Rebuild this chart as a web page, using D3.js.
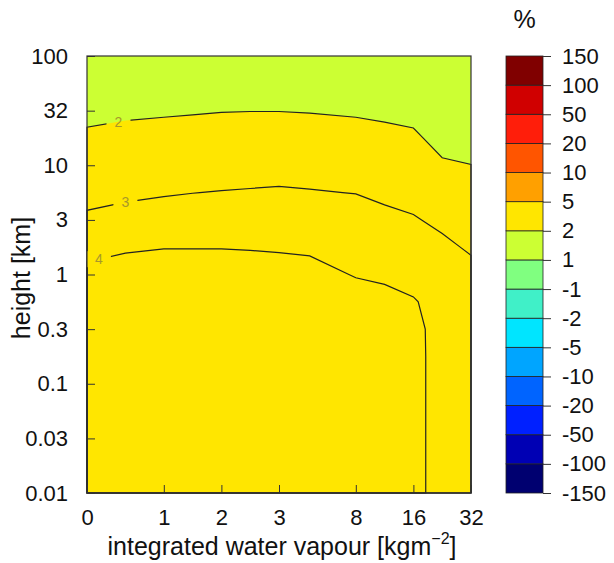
<!DOCTYPE html>
<html>
<head>
<meta charset="utf-8">
<title>Height vs IWV</title>
<script src="https://cdn.jsdelivr.net/npm/d3@7"></script>
<style>
    body { margin: 0; background: #fff; }
    text { font-family: "Liberation Sans", Arial, Helvetica, sans-serif; fill: #111; }
    .axis text { font-size: 22px; }
    .axis path { display: none; }
    .axis line { stroke: #333; }
</style>
</head>
<body>
<script>
// grid columns (integrated water vapour, kg m-2) and rows (height, km)
var iwv = [0, 0.5, 1, 1.5, 2, 2.5, 3, 5, 8, 12, 16, 24, 32];
var heights = [0.01, 0.0178, 0.0316, 0.0562, 0.1, 0.178, 0.316, 0.562, 1,
               1.78, 3.16, 5.62, 10, 17.8, 31.6, 56.2, 100];

// change in % , one row per height (lowest first), one value per iwv column
var change = [
    [4.80, 4.80, 4.82, 4.82, 4.82, 4.82, 4.80, 4.78, 4.75, 4.65, 4.30, 3.60, 3.50],
    [4.80, 4.80, 4.82, 4.82, 4.82, 4.82, 4.80, 4.78, 4.75, 4.65, 4.30, 3.60, 3.50],
    [4.80, 4.80, 4.82, 4.82, 4.82, 4.82, 4.80, 4.78, 4.75, 4.65, 4.30, 3.60, 3.50],
    [4.78, 4.80, 4.82, 4.82, 4.82, 4.82, 4.80, 4.78, 4.75, 4.65, 4.30, 3.60, 3.50],
    [4.76, 4.79, 4.81, 4.81, 4.81, 4.81, 4.79, 4.76, 4.74, 4.64, 4.30, 3.60, 3.50],
    [4.72, 4.78, 4.80, 4.80, 4.80, 4.80, 4.77, 4.73, 4.70, 4.60, 4.30, 3.60, 3.50],
    [4.65, 4.72, 4.76, 4.76, 4.76, 4.75, 4.72, 4.67, 4.62, 4.50, 4.28, 3.60, 3.50],
    [4.50, 4.62, 4.68, 4.68, 4.68, 4.66, 4.62, 4.56, 4.44, 4.32, 4.09, 3.55, 3.45],
    [4.23, 4.39, 4.47, 4.47, 4.47, 4.44, 4.40, 4.34, 3.94, 3.82, 3.59, 3.40, 3.28],
    [3.73, 3.89, 3.97, 3.97, 3.97, 3.94, 3.90, 3.84, 3.60, 3.50, 3.35, 3.20, 2.88],
    [3.14, 3.26, 3.34, 3.39, 3.45, 3.45, 3.45, 3.42, 3.38, 3.22, 3.08, 2.80, 2.60],
    [2.74, 2.86, 2.94, 2.99, 3.03, 3.06, 3.09, 3.05, 2.98, 2.82, 2.68, 2.50, 2.35],
    [2.45, 2.55, 2.60, 2.62, 2.63, 2.66, 2.69, 2.65, 2.60, 2.48, 2.40, 2.09, 2.01],
    [2.13, 2.21, 2.25, 2.28, 2.31, 2.32, 2.32, 2.30, 2.25, 2.19, 2.12, 1.76, 1.68],
    [1.80, 1.88, 1.92, 1.95, 1.98, 1.99, 1.99, 1.97, 1.92, 1.86, 1.79, 1.62, 1.55],
    [1.62, 1.68, 1.72, 1.74, 1.76, 1.77, 1.77, 1.76, 1.72, 1.68, 1.62, 1.52, 1.48],
    [1.50, 1.55, 1.58, 1.60, 1.62, 1.63, 1.63, 1.62, 1.60, 1.56, 1.52, 1.45, 1.42]
];

var xTicks = [0, 1, 2, 3, 8, 16, 32];
var yTickLabels = ["0.01", "0.03", "0.1", "0.3", "1", "3", "10", "32", "100"];
var levels = [-150, -100, -50, -20, -10, -5, -2, -1, 1, 2, 5, 10, 20, 50, 100, 150];
var colours = ["#000070", "#0000b4", "#0020ff", "#0064ff", "#00a5ff", "#00e5ff", "#40f0c8",
               "#80ff80", "#ccff33", "#ffe600", "#ffa000", "#ff5500", "#ff1e0a", "#d00000", "#800000"];
var lineLevels = [2, 3, 4];
var lineLabelIwv = [0.41, 0.5, 0.155];

var w = 614, h = 563;
var plotLeft = 87, plotRight = 471, plotTop = 56, plotBottom = 493;
var xFrac = [0, 0.2, 0.35, 0.5, 0.7, 0.85, 1];

var svg = d3.select("body").append("svg")
    .attr("width", w)
    .attr("height", h);

var x = d3.scaleLinear()
    .domain(xTicks)
    .range(xFrac.map(function(f) { return plotLeft + f * (plotRight - plotLeft); }));
var y = d3.scaleLog()
    .domain([0.01, 100])
    .range([plotBottom, plotTop]);

// grid index -> pixel (d3.contours puts value i at i + 0.5)
var colX = d3.scaleLinear()
    .domain(iwv.map(function(d, i) { return i + 0.5; }))
    .range(iwv.map(function(d) { return x(d); }))
    .clamp(true);
var rowY = d3.scaleLinear()
    .domain(heights.map(function(d, i) { return i + 0.5; }))
    .range(heights.map(function(d) { return y(d); }))
    .clamp(true);

var nx = iwv.length, ny = heights.length;
var flat = [];
change.forEach(function(r) { r.forEach(function(v) { flat.push(v); }); });

var path = d3.geoPath(d3.geoTransform({
    point: function(px, py) { this.stream.point(colX(px), rowY(py)); }
}));

// filled bands
var bands = d3.contours().size([nx, ny]).thresholds(levels.slice(0, -1))(flat);
svg.append("g")
    .selectAll("path")
    .data(bands)
    .enter()
    .append("path")
    .attr("d", path)
    .attr("fill", function(d, i) { return colours[i]; })
    .attr("stroke", "none");

// contour lines, broken where the labels sit
var lines = d3.contours().size([nx, ny]).thresholds(lineLevels)(flat);

function labelY(contour, px) {
    var best = Infinity;
    contour.coordinates.forEach(function(poly) {
        poly.forEach(function(ring) {
            for (var i = 1; i < ring.length; i++) {
                var ax = colX(ring[i - 1][0]), ay = rowY(ring[i - 1][1]);
                var bx = colX(ring[i][0]), by = rowY(ring[i][1]);
                if (ax === bx) continue;
                if ((ax - px) * (bx - px) <= 0) {
                    var t = (px - ax) / (bx - ax);
                    best = Math.min(best, ay + t * (by - ay));
                }
            }
        });
    });
    return best;
}

var labels = lines.map(function(c, i) {
    var px = x(lineLabelIwv[i]);
    return { value: c.value, x: px, y: labelY(c, px) };
});

var mask = svg.append("defs").append("mask").attr("id", "gaps");
mask.append("rect")
    .attr("x", 0).attr("y", 0)
    .attr("width", w).attr("height", h)
    .attr("fill", "#fff");
mask.selectAll("rect.gap")
    .data(labels)
    .enter()
    .append("rect")
    .attr("class", "gap")
    .attr("x", function(d) { return d.x - 12; })
    .attr("y", function(d) { return d.y - 8; })
    .attr("width", 24)
    .attr("height", 16)
    .attr("fill", "#000");

svg.append("g")
    .attr("mask", "url(#gaps)")
    .selectAll("path")
    .data(lines)
    .enter()
    .append("path")
    .attr("d", path)
    .attr("fill", "none")
    .attr("stroke", "#222")
    .attr("stroke-width", 1.2);

svg.append("g")
    .selectAll("text")
    .data(labels)
    .enter()
    .append("text")
    .attr("x", function(d) { return d.x; })
    .attr("y", function(d) { return d.y; })
    .attr("dy", "0.36em")
    .attr("text-anchor", "middle")
    .style("font-size", "14px")
    .style("fill", "#a8982a")
    .text(function(d) { return d.value; });

// axes with inward ticks
var yTickVals = heights.filter(function(d, i) { return i % 2 === 0; });
var xAxis = d3.axisBottom(x)
    .tickValues(xTicks)
    .tickSizeInner(-8)
    .tickSizeOuter(0)
    .tickPadding(16);
var yAxis = d3.axisLeft(y)
    .tickValues(yTickVals)
    .tickFormat(function(d, i) { return yTickLabels[i]; })
    .tickSizeInner(-8)
    .tickSizeOuter(0)
    .tickPadding(19);

svg.append("g")
    .attr("class", "axis")
    .attr("transform", "translate(0," + plotBottom + ")")
    .call(xAxis);
svg.append("g")
    .attr("class", "axis")
    .attr("transform", "translate(" + plotLeft + ",0)")
    .call(yAxis);

svg.append("rect")
    .attr("x", plotLeft)
    .attr("y", plotTop)
    .attr("width", plotRight - plotLeft)
    .attr("height", plotBottom - plotTop)
    .attr("fill", "none")
    .attr("stroke", "#333")
    .attr("stroke-width", 1.2);

// axis titles
var xt = svg.append("text")
    .attr("x", (plotLeft + plotRight) / 2 + 3)
    .attr("y", 555)
    .attr("text-anchor", "middle")
    .style("font-size", "25px");
xt.append("tspan").text("integrated water vapour [kgm");
xt.append("tspan").attr("dy", -11).style("font-size", "16px").text("\u22122");
xt.append("tspan").attr("dy", 11).text("]");

svg.append("text")
    .attr("transform", "translate(30,278) rotate(-90)")
    .attr("text-anchor", "middle")
    .style("font-size", "25px")
    .text("height [km]");

// colour bar
var cbLeft = 506, cbRight = 543;
var cbY = d3.scaleLinear()
    .domain([0, levels.length - 1])
    .range([plotBottom, plotTop]);

svg.append("g")
    .selectAll("rect")
    .data(colours)
    .enter()
    .append("rect")
    .attr("x", cbLeft)
    .attr("y", function(d, i) { return cbY(i + 1); })
    .attr("width", cbRight - cbLeft)
    .attr("height", function(d, i) { return cbY(i) - cbY(i + 1); })
    .attr("fill", function(d) { return d; })
    .attr("stroke", "#222")
    .attr("stroke-width", 0.8);

var cbAxis = d3.axisRight(cbY)
    .tickValues(d3.range(levels.length))
    .tickFormat(function(i) { return levels[i]; })
    .tickSizeInner(8)
    .tickSizeOuter(0)
    .tickPadding(11);
svg.append("g")
    .attr("class", "axis")
    .attr("transform", "translate(" + cbRight + ",0)")
    .call(cbAxis);

svg.append("text")
    .attr("x", (cbLeft + cbRight) / 2)
    .attr("y", 28)
    .attr("text-anchor", "middle")
    .style("font-size", "25px")
    .text("%");
</script>
</body>
</html>
